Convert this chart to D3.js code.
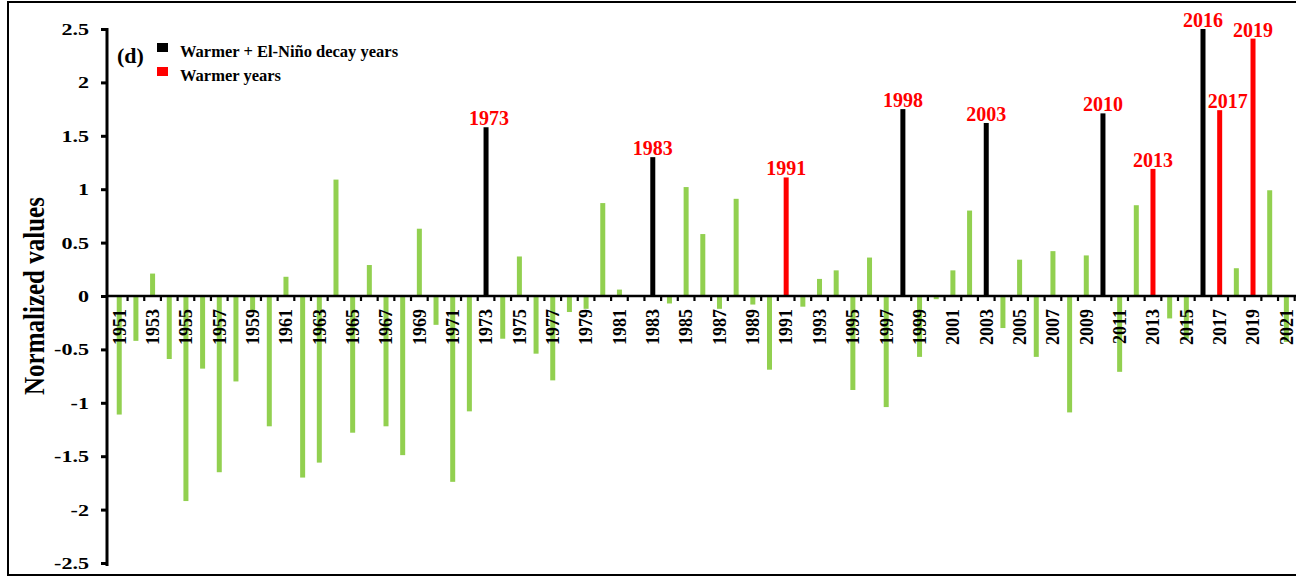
<!DOCTYPE html>
<html>
<head>
<meta charset="utf-8">
<script src="https://cdn.jsdelivr.net/npm/d3@7"></script>
<style>
  html, body { margin: 0; padding: 0; background: #fff; }
  svg { display: block; }
  text { font-family: "Liberation Serif", "Times New Roman", serif; font-weight: bold; }
</style>
</head>
<body>
<svg id="chart" width="1296" height="577"></svg>
<script>
// Normalized index per year, 1951-2021
const years = d3.range(1951, 2022);
const values = [
  -1.11, -0.42, 0.21, -0.59, -1.92, -0.68, -1.65, -0.80, -0.15, -1.22,
  0.18, -1.70, -1.56, 1.09, -1.28, 0.29, -1.22, -1.49, 0.63, -0.27,
  -1.74, -1.08, 1.58, -0.40, 0.37, -0.54, -0.79, -0.15, -0.12, 0.87,
  0.06, 0.00, 1.30, -0.07, 1.02, 0.58, -0.12, 0.91, -0.08, -0.69,
  1.11, -0.10, 0.16, 0.24, -0.88, 0.36, -1.04, 1.75, -0.57, -0.03,
  0.24, 0.80, 1.62, -0.30, 0.34, -0.57, 0.42, -1.09, 0.38, 1.71,
  -0.71, 0.85, 1.19, -0.21, -0.40, 2.50, 1.74, 0.26, 2.41, 0.99,
  -0.43
];
// Highlighted groups
const elNinoDecayYears = [1973, 1983, 1998, 2003, 2010, 2016];
const warmerYears = [1991, 2013, 2017, 2019];
const yTicks = [2.5, 2, 1.5, 1, 0.5, 0, -0.5, -1, -1.5, -2, -2.5];
const xLabelYears = years.filter(y => y % 2 === 1);
const legendItems = ["Warmer + El-Niño decay years", "Warmer years"];
const panelTag = "(d)";
const yTitle = "Normalized values";

const COLORS = { normal: "#92d050", decay: "#000000", warm: "#ff0000", label: "#ff0000" };
const FONT = '"Liberation Serif", "Times New Roman", serif';

const svg = d3.select("#chart");

// outer frame
svg.append("rect")
  .attr("x", 8).attr("y", 2).attr("width", 1300).attr("height", 573)
  .attr("fill", "none").attr("stroke", "#000").attr("stroke-width", 2);

const x = d3.scaleBand().domain(years).range([110.9, 1294.7]).padding(0);
const y = d3.scaleLinear().domain([-2.5, 2.5]).range([563, 29]);
const axisX = 107;

const data = years.map((yr, i) => ({
  year: yr,
  value: values[i],
  kind: elNinoDecayYears.includes(yr) ? "decay" : warmerYears.includes(yr) ? "warm" : "normal"
}));

// bars
const barW = 5;
svg.append("g").selectAll("rect")
  .data(data)
  .join("rect")
  .attr("x", d => x(d.year) + x.bandwidth() / 2 - barW / 2)
  .attr("width", barW)
  .attr("y", d => y(Math.max(0, d.value)))
  .attr("height", d => Math.abs(y(d.value) - y(0)))
  .attr("fill", d => COLORS[d.kind]);

// x axis line with small ticks at band boundaries
const gx = svg.append("g");
gx.append("line")
  .attr("x1", axisX).attr("x2", 1296)
  .attr("y1", y(0)).attr("y2", y(0))
  .attr("stroke", "#000").attr("stroke-width", 2.5);
gx.selectAll("line.tk")
  .data(years)
  .join("line")
  .attr("class", "tk")
  .attr("x1", d => x(d) + x.step()).attr("x2", d => x(d) + x.step())
  .attr("y1", y(0)).attr("y2", y(0) + 5)
  .attr("stroke", "#000").attr("stroke-width", 2.2);

// x labels (odd years), rotated
const xAxis = d3.axisBottom(x).tickValues(xLabelYears).tickSize(0).tickFormat(d3.format("d"));
const gxl = svg.append("g").attr("transform", `translate(0,${y(0)})`).call(xAxis)
  .attr("font-family", FONT);
gxl.select(".domain").remove();
gxl.selectAll("text")
  .attr("font-size", 18)
  .attr("fill", "#000")
  .attr("text-anchor", "end")
  .attr("dy", "0.35em")
  .attr("x", 0).attr("y", 0)
  .attr("transform", "translate(0,13) rotate(-90)");

// y axis
const yAxis = d3.axisLeft(y).tickValues(yTicks).tickSize(6).tickPadding(0)
  .tickFormat(d => String(d));
const gy = svg.append("g").attr("transform", `translate(${axisX},0)`).call(yAxis)
  .attr("font-family", FONT);
gy.select(".domain").attr("stroke-width", 3).attr("d", `M0,${y(2.5) - 1}V${y(-2.5) + 3}`);
gy.selectAll(".tick line").attr("stroke-width", 3);
gy.selectAll("text")
  .attr("font-size", 17)
  .attr("fill", "#000")
  .attr("x", 0)
  .attr("transform", "translate(-18,0) scale(1.3,1)");

// y title
svg.append("text")
  .attr("transform", `translate(44,${y(0)}) rotate(-90) scale(1,1.15)`)
  .attr("text-anchor", "middle")
  .attr("font-size", 25)
  .text(yTitle);

// value labels over highlighted bars
const labelShift = { 2017: 8, 1973: 3 };
svg.append("g").selectAll("text")
  .data(data.filter(d => d.kind !== "normal"))
  .join("text")
  .attr("x", d => x(d.year) + x.bandwidth() / 2 + (labelShift[d.year] || 0))
  .attr("y", d => y(d.value) - 2)
  .attr("text-anchor", "middle")
  .attr("font-size", 20)
  .attr("fill", COLORS.label)
  .text(d => d.year);

// panel tag and legend
svg.append("text").attr("x", 117).attr("y", 63).attr("font-size", 22).text(panelTag);
const legend = svg.append("g");
legendItems.forEach((t, i) => {
  legend.append("rect")
    .attr("x", 157).attr("y", 43 + i * 24).attr("width", 11).attr("height", 9)
    .attr("fill", i === 0 ? COLORS.decay : COLORS.warm);
  legend.append("text")
    .attr("x", 180).attr("y", 57 + i * 24)
    .attr("font-size", 16.5)
    .text(t);
});
</script>
</body>
</html>
